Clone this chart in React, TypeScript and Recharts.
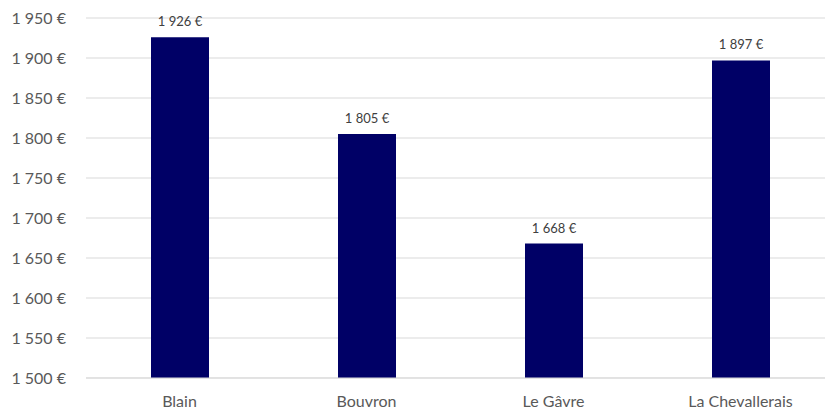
import { BarChart, Bar, XAxis, YAxis, CartesianGrid, LabelList } from "recharts"

const COMMUNES = ["Blain", "Bouvron", "Le Gâvre", "La Chevallerais"]
const MONTANTS = [1926, 1805, 1668, 1897]
const Y_TICKS = [1500, 1550, 1600, 1650, 1700, 1750, 1800, 1850, 1900, 1950]

const NAVY = "#000066"
const TEXT = "#595959"
const FONT = "Lato, 'Open Sans', sans-serif"

const euro = (v: number) => `${Math.floor(v / 1000)} ${String(v % 1000).padStart(3, "0")} €`

const data = COMMUNES.map((name, i) => ({ name, value: MONTANTS[i] }))

export default function App() {
  return (
    <div style={{ position: "absolute", left: 0, top: 0, width: 825, height: 409, overflow: "hidden", background: "#fff" }}>
      <BarChart
        width={840}
        height={409}
        data={data}
        margin={{ top: 18, right: 6, left: 0, bottom: 0 }}
        style={{ fontFamily: FONT }}
      >
        <CartesianGrid vertical={false} stroke="#d9d9d9" strokeWidth={1} />
        <XAxis
          dataKey="name"
          tickLine={false}
          axisLine={{ stroke: "#d9d9d9" }}
          tick={{ fill: TEXT, fontSize: 16 }}
          tickMargin={12}
          height={31}
          interval={0}
        />
        <YAxis
          domain={[1500, 1950]}
          ticks={Y_TICKS}
          tickFormatter={euro}
          tickLine={false}
          axisLine={false}
          tick={{ fill: TEXT, fontSize: 16 }}
          tickMargin={14}
          width={86}
          allowDataOverflow
        />
        <Bar dataKey="value" fill={NAVY} barSize={58} isAnimationActive={false}>
          <LabelList
            dataKey="value"
            position="top"
            offset={11}
            formatter={(v: any) => euro(Number(v))}
            style={{ fill: "#404040", fontSize: 13, fontFamily: FONT }}
          />
        </Bar>
      </BarChart>
    </div>
  )
}
